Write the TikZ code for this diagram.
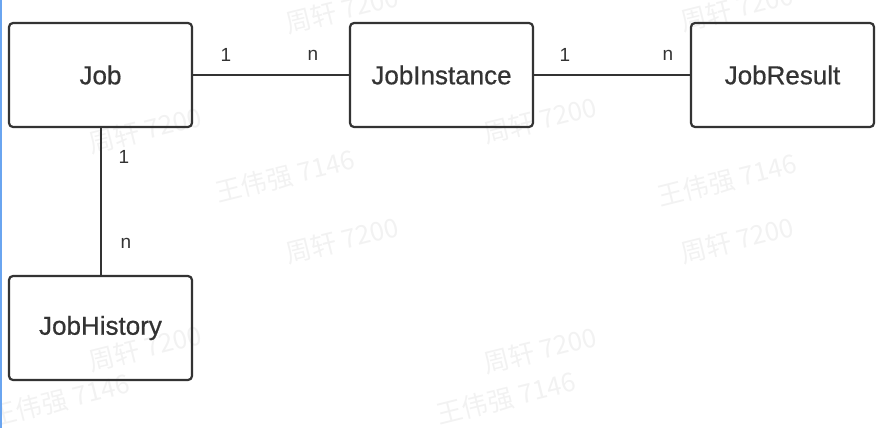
\documentclass[tikz,border=0pt]{standalone}
\usepackage{fontspec}
\setmainfont{Liberation Sans}
\newfontfamily\boxfont[FakeBold=0.6]{Liberation Sans}
\newfontfamily\cjk{Noto Sans CJK SC}
\usetikzlibrary{positioning}
\definecolor{ink}{HTML}{333333}
\definecolor{edgeblue}{HTML}{6AA5F0}
\tikzstyle{entity} = [draw=ink, rectangle, rounded corners=4pt, line width=2.2pt, outer sep=0pt, minimum width=183pt, minimum height=104pt, text=ink, font=\boxfont\fontsize{26}{30}\selectfont]
\tikzstyle{card} = [text=ink, inner sep=0pt, font=\fontsize{19}{22}\selectfont]
\tikzstyle{link} = [draw=ink, line width=2pt]
\tikzstyle{wm} = [text=black!5, rotate=14, inner sep=0pt, font=\cjk\fontsize{26}{30}\selectfont]

\begin{document}
\begin{tikzpicture}[x=1pt, y=-1pt, node distance=158pt]
		\useasboundingbox (0,0) rectangle (881,428);
		% watermarks
		\node (wz1) [wm] at (342,10) {周轩 7200};
		\node (wz2) [wm] at (737,8) {周轩 7200};
		\node (wz3) [wm] at (145,130) {周轩 7200};
		\node (wz4) [wm] at (540,120) {周轩 7200};
		\node (wz5) [wm] at (342,240) {周轩 7200};
		\node (wz6) [wm] at (737,240) {周轩 7200};
		\node (wz7) [wm] at (145,348) {周轩 7200};
		\node (wz8) [wm] at (540,350) {周轩 7200};
		\node (ww1) [wm] at (285,176) {王伟强 7146};
		\node (ww2) [wm] at (727,180) {王伟强 7146};
		\node (ww3) [wm] at (60,400) {王伟强 7146};
		\node (ww4) [wm] at (506,398) {王伟强 7146};
		% entities
		\node (job) [entity] at (100.5,75) {Job};
		\node (inst) [entity, right=of job] {JobInstance};
		\node (res) [entity, right=of inst] {JobResult};
		\node (hist) [entity, below=149pt of job] {JobHistory};
		\draw[link] (job) -- (inst);
		\draw[link] (inst) -- (res);
		\draw[link] (job) -- (hist);
		% cardinalities
		\node (c1) [card] at (226,55) {1};
		\node (c2) [card] at (313,55) {n};
		\node (c3) [card] at (565,55) {1};
		\node (c4) [card] at (668,55) {n};
		\node (c5) [card] at (124,157) {1};
		\node (c6) [card] at (126,243) {n};
		%
		\draw[edgeblue, line width=1.5pt] (0.75,0) -- (0.75,428);
\end{tikzpicture}
\end{document}
